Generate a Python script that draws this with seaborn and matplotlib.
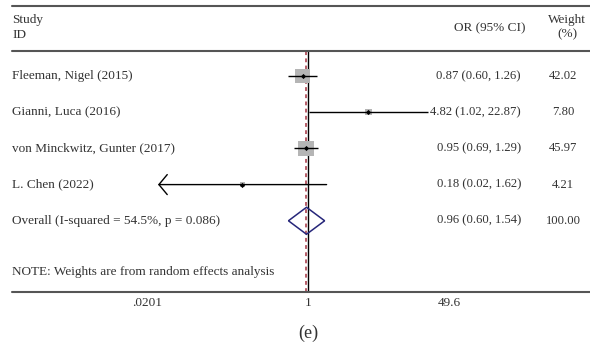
import numpy as np
import pandas as pd
import matplotlib
matplotlib.use("Agg")
import matplotlib.pyplot as plt
import matplotlib.transforms as mtransforms
from matplotlib.lines import Line2D
from matplotlib.patches import Polygon
from matplotlib.ticker import NullLocator
import seaborn as sns

# ---------------- data ----------------
studies = ["Fleeman, Nigel (2015)", "Gianni, Luca (2016)",
           "von Minckwitz, Gunter (2017)", "L. Chen (2022)"]
or_est = [0.87, 4.82, 0.95, 0.18]
ci_low = [0.60, 1.02, 0.69, 0.02]
ci_high = [1.26, 22.87, 1.29, 1.62]
weights = [42.02, 7.80, 45.97, 4.21]
overall_label = "Overall (I-squared = 54.5%, p = 0.086)"
overall_est, overall_low, overall_high, overall_weight = 0.96, 0.60, 1.54, 100.00
note = "NOTE: Weights are from random effects analysis"
xticks = [0.0201, 1, 49.6]
xtick_labels = [".0201", "1", "49.6"]
panel_label = "(e)"

# ---------------- style ----------------
sns.set_theme(style="white")
plt.rcParams["font.family"] = ["Liberation Serif", "DejaVu Serif"]
FS = 9.5
FSN = 9.1
TXT = "#333333"

W, H = 590, 349
fig = plt.figure(figsize=(W / 100, H / 100), dpi=100)
ax_top, ax_bot = 50.7, 291.7
ax = fig.add_axes([158 / W, 1 - ax_bot / H, 300 / W, (ax_bot - ax_top) / H])
ax.set_xscale("log")
ax.set_xlim(xticks[0], xticks[-1])
ax.set_ylim(5.96, -0.70)

rows = list(range(len(studies)))
df = pd.DataFrame({"study": studies, "est": or_est, "lo": ci_low,
                   "hi": ci_high, "w": weights, "row": rows})

# reference lines
ax.axvline(1, color="black", lw=1.0, zorder=1.2)
ax.axvline(overall_est, color="#a3303f", lw=1.1, ls=(0, (2.5, 2.2)), zorder=1.1)

# weight squares
sns.scatterplot(data=df, x="est", y="row", size="w", sizes=(0, 270),
                size_norm=(0, 100), marker="s", color="#b5b5b5",
                linewidth=0, legend=False, ax=ax, zorder=2)

# confidence intervals
xmin, xmax = ax.get_xlim()
for _, r in df.iterrows():
    if r["lo"] < xmin:
        ax.annotate("", xy=(xmin, r["row"]), xytext=(r["hi"], r["row"]),
                    arrowprops=dict(arrowstyle="->,head_length=0.5,head_width=0.6",
                                    lw=1.0, color="black", shrinkA=0, shrinkB=0),
                    annotation_clip=False, zorder=3)
    else:
        ax.hlines(r["row"], r["lo"], min(r["hi"], xmax), color="black",
                  lw=1.0, zorder=3)

# point estimates
sns.scatterplot(data=df, x="est", y="row", marker="D", s=7, color="black",
                linewidth=0, legend=False, ax=ax, zorder=4)

# overall diamond
orow = len(studies)
h = 0.373
ax.add_patch(Polygon([(overall_low, orow), (overall_est, orow - h),
                      (overall_high, orow), (overall_est, orow + h)],
                     closed=True, fill=False, edgecolor="#26267a", lw=1.1,
                     zorder=5))

# axis cosmetics
ax.set_xticks(xticks)
ax.set_xticklabels(xtick_labels)
ax.xaxis.set_minor_locator(NullLocator())
ax.tick_params(axis="x", length=0, pad=3.5, labelsize=FS, labelcolor=TXT)
ax.set_yticks([])
ax.set_xlabel("")
ax.set_ylabel("")
for s in ax.spines.values():
    s.set_visible(False)
offsets = [-11, 0, -9]
for lab, dx in zip(ax.get_xticklabels(), offsets):
    lab.set_transform(lab.get_transform() +
                      mtransforms.ScaledTranslation(dx / 100, 0, fig.dpi_scale_trans))

# text columns
tr_left = mtransforms.blended_transform_factory(fig.transFigure, ax.transData)
all_labels = studies + [overall_label]
all_est = or_est + [overall_est]
all_lo = ci_low + [overall_low]
all_hi = ci_high + [overall_high]
all_w = weights + [overall_weight]
for i, lab in enumerate(all_labels):
    fig.text(12 / W, i, lab, transform=tr_left, ha="left", va="center",
             fontsize=FS, color=TXT)
    fig.text(521 / W, i, f"{all_est[i]:.2f} ({all_lo[i]:.2f}, {all_hi[i]:.2f})",
             transform=tr_left, ha="right", va="center", fontsize=FSN, color=TXT)
    fig.text(563 / W, i, f"{all_w[i]:.2f}", transform=tr_left, ha="center",
             va="center", fontsize=FSN, color=TXT)
fig.text(12 / W, 5.41, note, transform=tr_left, ha="left", va="center",
         fontsize=FS, color=TXT)

# header
def fy(py):
    return 1 - py / H
fig.text(12 / W, fy(19.5), "Study", ha="left", va="center", fontsize=FS, color=TXT)
fig.text(12 / W, fy(34.5), "ID", ha="left", va="center", fontsize=FS, color=TXT)
fig.text(490 / W, fy(28), "OR (95% CI)", ha="center", va="center", fontsize=FS, color=TXT)
fig.text(567 / W, fy(19.5), "Weight", ha="center", va="center", fontsize=FS, color=TXT)
fig.text(567 / W, fy(34.5), "(%)", ha="center", va="center", fontsize=FS, color=TXT)

# rules
for py in (5.7, 50.7, 291.7):
    fig.add_artist(Line2D([12 / W, 1], [fy(py), fy(py)], color="#555555",
                          lw=1.5, transform=fig.transFigure))

fig.text(308 / W, fy(333), panel_label, ha="center", va="center",
         fontsize=13, color=TXT)

fig.savefig("out.png", dpi=100)
